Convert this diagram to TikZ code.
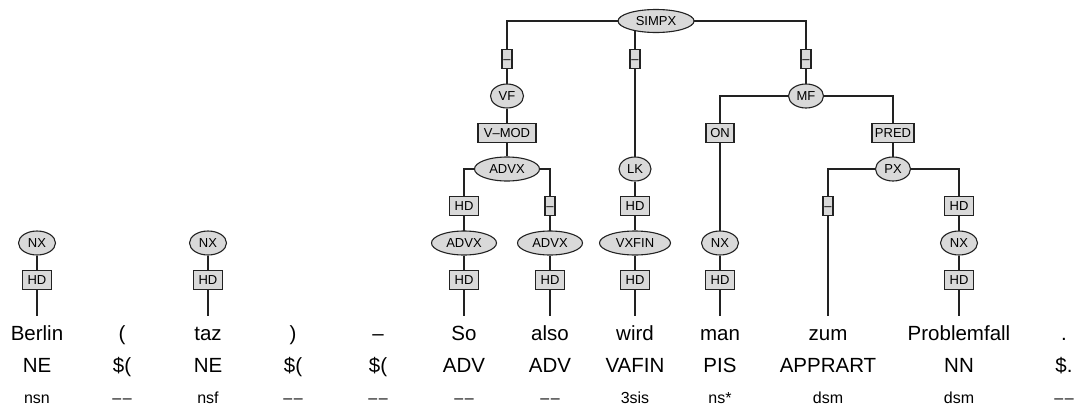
\documentclass[tikz,border=0pt]{standalone}
\usepackage{fontspec}
\setmainfont{Liberation Sans}
\usetikzlibrary{shapes.geometric}
\pgfdeclarelayer{bg}
\pgfsetlayers{bg,main}
\definecolor{nodefill}{HTML}{D9D9D9}
\definecolor{edgecol}{HTML}{222222}
\newcommand{\nomorph}{\textendash\kern1.6pt\textendash}
\tikzset{
  cat/.style={ellipse, draw=edgecol, fill=nodefill, line width=1.1pt, inner sep=0pt,
    minimum height=24pt, font=\fontsize{13}{13}\selectfont, text height=9.4pt, text depth=0pt},
  fn/.style={rectangle, draw=edgecol, fill=nodefill, line width=1.1pt, inner sep=0pt,
    minimum height=19pt, font=\fontsize{13}{13}\selectfont, text height=9.4pt, text depth=0pt},
  hdbox/.style={fn, minimum width=29pt},
  nullbox/.style={fn, minimum width=10pt},
  word/.style={anchor=base, inner sep=0pt, text height=24pt, font=\fontsize{20.5}{24}\selectfont},
  tagw/.style={anchor=base, inner sep=0pt, font=\fontsize{20.5}{24}\selectfont},
  morph/.style={anchor=base, inner sep=0pt, font=\fontsize{16}{18}\selectfont},
  edge/.style={draw=edgecol, line width=1.3pt},
}
\begin{document}
\begin{tikzpicture}[x=1pt,y=-1pt]
\useasboundingbox (0,0) rectangle (1079,407);
% tree nodes
\node[cat, minimum width=76pt, minimum height=23pt] (simpx) at (656,21) {SIMPX};
\node[nullbox] (s1) at (507,59) {–};
\node[nullbox] (s2) at (635,59) {–};
\node[nullbox] (s3) at (806,59) {–};
\node[cat, minimum width=33pt] (vf) at (507,96) {VF};
\node[cat, minimum width=35pt] (mf) at (806,96) {MF};
\node[fn, minimum width=58pt] (vmod) at (507,133) {V–MOD};
\node[fn, minimum width=28pt] (on) at (720,133) {ON};
\node[fn, minimum width=42pt] (pred) at (893,133) {PRED};
\node[cat, minimum width=65pt] (advx) at (507,169) {ADVX};
\node[cat, minimum width=32pt] (lk) at (635,169) {LK};
\node[cat, minimum width=35pt] (px) at (893,169) {PX};
\node[hdbox] (h6a) at (464,206) {HD};
\node[nullbox] (n7a) at (550,206) {–};
\node[hdbox] (h8a) at (635,206) {HD};
\node[nullbox] (n10a) at (828,206) {–};
\node[hdbox] (h11a) at (959,206) {HD};
\node[cat, minimum width=37pt] (nx1) at (37,243) {NX};
\node[cat, minimum width=37pt] (nx3) at (208,243) {NX};
\node[cat, minimum width=65pt] (advx6) at (464,243) {ADVX};
\node[cat, minimum width=65pt] (advx7) at (550,243) {ADVX};
\node[cat, minimum width=71pt] (vxfin) at (635,243) {VXFIN};
\node[cat, minimum width=37pt] (nx9) at (720,243) {NX};
\node[cat, minimum width=37pt] (nx11) at (959,243) {NX};
\node[hdbox] (h1) at (37,280) {HD};
\node[hdbox] (h3) at (208,280) {HD};
\node[hdbox] (h6) at (464,280) {HD};
\node[hdbox] (h7) at (550,280) {HD};
\node[hdbox] (h8) at (635,280) {HD};
\node[hdbox] (h9) at (720,280) {HD};
\node[hdbox] (h11) at (959,280) {HD};
% words
\node[word] (w1) at (37,340) {Berlin};
\node[word] (w2) at (122,340) {(};
\node[word] (w3) at (208,340) {taz};
\node[word] (w4) at (293,340) {)};
\node[word] (w5) at (378,340) {–};
\node[word] (w6) at (464,340) {So};
\node[word] (w7) at (550,340) {also};
\node[word] (w8) at (635,340) {wird};
\node[word] (w9) at (720,340) {man};
\node[word] (w10) at (828,340) {zum};
\node[word] (w11) at (959,340) {Problemfall};
\node[word] (w12) at (1064,340) {.};
% tags
\node[tagw] (t1) at (37,372) {NE};
\node[tagw] (t2) at (122,372) {\$(};
\node[tagw] (t3) at (208,372) {NE};
\node[tagw] (t4) at (293,372) {\$(};
\node[tagw] (t5) at (378,372) {\$(};
\node[tagw] (t6) at (464,372) {ADV};
\node[tagw] (t7) at (550,372) {ADV};
\node[tagw] (t8) at (635,372) {VAFIN};
\node[tagw] (t9) at (720,372) {PIS};
\node[tagw] (t10) at (828,372) {APPRART};
\node[tagw] (t11) at (959,372) {NN};
\node[tagw] (t12) at (1064,372) {\$.};
% morphology
\node[morph] (m1) at (37,403) {nsn};
\node[morph] (m2) at (122,403) {\nomorph};
\node[morph] (m3) at (208,403) {nsf};
\node[morph] (m4) at (293,403) {\nomorph};
\node[morph] (m5) at (378,403) {\nomorph};
\node[morph] (m6) at (464,403) {\nomorph};
\node[morph] (m7) at (550,403) {\nomorph};
\node[morph] (m8) at (635,403) {3sis};
\node[morph] (m9) at (720,403) {ns*};
\node[morph] (m10) at (828,403) {dsm};
\node[morph] (m11) at (959,403) {dsm};
\node[morph] (m12) at (1064,403) {\nomorph};
% edges
\begin{pgfonlayer}{bg}
\draw[edge] (simpx.center) -| (s1.center) -- (vf.center);
\draw[edge] (simpx.center) -| (s2.center) -- (lk.center);
\draw[edge] (simpx.center) -| (s3.center) -- (mf.center);
\draw[edge] (vf) -- (vmod) -- (advx);
\draw[edge] (advx.center) -| (h6a.center) -- (advx6.center);
\draw[edge] (advx.center) -| (n7a.center) -- (advx7.center);
\draw[edge] (lk) -- (h8a) -- (vxfin);
\draw[edge] (mf.center) -| (on.center) -- (nx9.center);
\draw[edge] (mf.center) -| (pred.center) -- (px.center);
\draw[edge] (px.center) -| (n10a.center) -- (w10.north);
\draw[edge] (px.center) -| (h11a.center) -- (nx11.center);
\draw[edge] (nx1) -- (h1) -- (w1.north);
\draw[edge] (nx3) -- (h3) -- (w3.north);
\draw[edge] (advx6) -- (h6) -- (w6.north);
\draw[edge] (advx7) -- (h7) -- (w7.north);
\draw[edge] (vxfin) -- (h8) -- (w8.north);
\draw[edge] (nx9) -- (h9) -- (w9.north);
\draw[edge] (nx11) -- (h11) -- (w11.north);
\end{pgfonlayer}
\end{tikzpicture}
\end{document}
